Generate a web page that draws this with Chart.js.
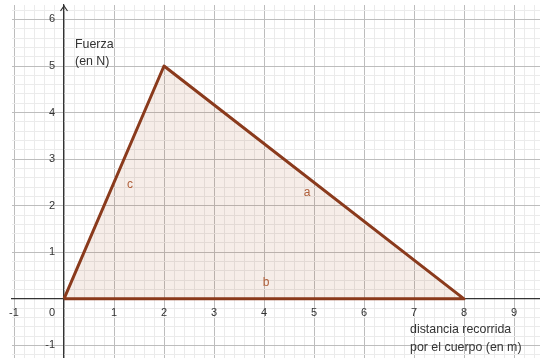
<!DOCTYPE html>
<html>
<head>
<meta charset="utf-8">
<script src="https://cdn.jsdelivr.net/npm/chart.js@4"></script>
<style>
html,body{margin:0;padding:0;background:#fff;}
#wrap{width:540px;height:358px;position:relative;}
</style>
</head>
<body>
<div id="wrap"><canvas id="c" width="540" height="358"></canvas></div>
<script>
// ---- data ----
const vertexX = [0, 2, 8, 0];
const vertexY = [0, 5, 0, 0];
const sideNames = ['a', 'b', 'c'];
const sideLabelX = [4.86, 4.04, 1.32];
const sideLabelY = [2.29, 0.34, 2.45];
const yAxisName = ['Fuerza', '(en N)'];
const xAxisName = ['distancia recorrida', 'por el cuerpo (en m)'];
const xTickValues = [-1, 1, 2, 3, 4, 5, 6, 7, 8, 9];
const yTickValues = [-1, 1, 2, 3, 4, 5, 6];
const originLabel = '0';
const xRange = [-1.04, 9.52];
const yRange = [-1.27, 6.31];

const isInt = v => Math.abs(v - Math.round(v)) < 1e-6;
const FONT = '"Liberation Sans", Arial, sans-serif';

const annot = {
  id: 'annot',
  afterDatasetsDraw(chart) {
    const ctx = chart.ctx, xs = chart.scales.x, ys = chart.scales.y;
    const x0 = xs.getPixelForValue(0), y0 = ys.getPixelForValue(0);
    ctx.save();
    ctx.fillStyle = '#b0603a';
    ctx.font = '12px ' + FONT;
    ctx.textAlign = 'center';
    ctx.textBaseline = 'middle';
    sideNames.forEach((n, i) => {
      ctx.fillText(n, xs.getPixelForValue(sideLabelX[i]), ys.getPixelForValue(sideLabelY[i]));
    });
    ctx.fillStyle = '#333';
    ctx.textAlign = 'left';
    ctx.font = '12.4px ' + FONT;
    ctx.fillText(yAxisName[0], x0 + 11, ys.getPixelForValue(5.47));
    ctx.fillText(yAxisName[1], x0 + 11, ys.getPixelForValue(5.1));
    ctx.fillText(xAxisName[0], xs.getPixelForValue(6.92), ys.getPixelForValue(-0.67));
    ctx.fillText(xAxisName[1], xs.getPixelForValue(6.92), ys.getPixelForValue(-1.05));
    ctx.font = '11px ' + FONT;
    ctx.textAlign = 'center';
    ctx.fillText(originLabel, x0 - 12, y0 + 14);
    ctx.strokeStyle = '#333';
    ctx.lineWidth = 1.2;
    const top = chart.chartArea.top + 1;
    ctx.beginPath();
    ctx.moveTo(x0 - 3.5, top + 5);
    ctx.lineTo(x0, top);
    ctx.lineTo(x0 + 3.5, top + 5);
    ctx.stroke();
    ctx.restore();
  }
};

const gridColor = c => {
  const v = c.tick && c.tick.value;
  if (v === undefined) return 'rgba(0,0,0,0)';
  return isInt(v) ? '#bdbdbd' : '#ebebeb';
};
const noPad = s => { s.paddingTop = 0; s.paddingBottom = 0; s.paddingLeft = 0; s.paddingRight = 0; };
// grid lines every 0.2 unit across the visible range
const gridTicks = s => {
  const t = [];
  for (let k = Math.ceil(s.min * 5 - 1e-9); k <= Math.floor(s.max * 5 + 1e-9); k++) t.push({value: k / 5});
  s.ticks = t;
};
const fixedTicks = vals => s => { s.ticks = vals.map(v => ({value: v})); };

new Chart(document.getElementById('c'), {
  type: 'scatter',
  data: {
    datasets: [{
      data: vertexX.map((x, i) => ({x: x, y: vertexY[i]})),
      showLine: true,
      borderColor: '#8a3a1c',
      borderWidth: 3,
      backgroundColor: 'rgba(153,51,0,0.09)',
      fill: 'shape',
      pointRadius: 0,
      borderJoinStyle: 'round',
      tension: 0
    }]
  },
  options: {
    responsive: false,
    animation: false,
    events: [],
    layout: {autoPadding: false, padding: {left: 12, top: 5, right: 0, bottom: 0}},
    plugins: {legend: {display: false}, tooltip: {enabled: false}, title: {display: false}},
    scales: {
      x: {
        type: 'linear',
        position: {y: 0},
        min: xRange[0], max: xRange[1],
        afterFit: noPad,
        afterBuildTicks: gridTicks,
        grid: {color: gridColor, lineWidth: 1, drawTicks: false},
        border: {display: true, color: '#333', width: 1.2},
        ticks: {display: false}
      },
      y: {
        type: 'linear',
        position: {x: 0},
        min: yRange[0], max: yRange[1],
        afterFit: noPad,
        afterBuildTicks: gridTicks,
        grid: {color: gridColor, lineWidth: 1, drawTicks: false},
        border: {display: true, color: '#333', width: 1.2},
        ticks: {display: false}
      },
      xTickLabels: {
        type: 'linear',
        axis: 'x',
        position: {y: 0},
        min: xRange[0], max: xRange[1],
        afterFit: noPad,
        afterBuildTicks: fixedTicks(xTickValues),
        grid: {display: false, drawTicks: false},
        border: {display: false},
        ticks: {
          autoSkip: false, maxRotation: 0, padding: 8,
          color: '#333', font: {family: FONT, size: 11},
          callback: v => String(v)
        }
      },
      yTickLabels: {
        type: 'linear',
        axis: 'y',
        position: {x: -0.18},
        min: yRange[0], max: yRange[1],
        afterFit: noPad,
        afterBuildTicks: fixedTicks(yTickValues),
        grid: {display: false, drawTicks: false},
        border: {display: false},
        ticks: {
          autoSkip: false, padding: 0,
          color: '#333', font: {family: FONT, size: 11},
          callback: v => String(v)
        }
      }
    }
  },
  plugins: [annot]
});
</script>
</body>
</html>
